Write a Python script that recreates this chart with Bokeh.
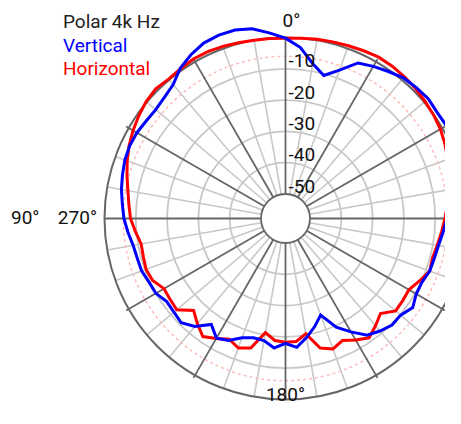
import numpy as np
from bokeh.plotting import figure
from bokeh.models import Range1d
from bokeh.core.properties import value
from bokeh.embed import file_html
from bokeh.resources import INLINE

# ---- data (angle in degrees, counter-clockwise from top; level in dB) ----
ANGLES = [0, 5, 10, 15, 20, 25, 30, 35, 40, 45, 50, 55, 60, 65, 70, 75, 80, 85,
          90, 95, 100, 105, 110, 115, 120, 125, 130, 135, 140, 145, 150, 155, 160, 165, 170, 175,
          180, 185, 190, 195, 200, 205, 210, 215, 220, 225, 230, 235, 240, 245, 250, 255, 260, 265,
          270, 275, 280, 285, 290, 295, 300, 305, 310, 315, 320, 325, 330, 335, 340, 345, 350, 355]

VERTICAL = [-0.2, 1.7, 3.7, 4.5, 4.5, 4.0, 2.6, 0.8, -2.0, -3.1, -3.7, -3.5, -3.0, -2.9, -3.2, -3.9, -4.6, -5.5,
            -6.2, -7.3, -8.4, -8.8, -8.9, -9.7, -10.0, -11.5, -11.3, -10.7, -12.8, -16.5, -13.7, -14.8, -17.3, -18.4, -18.2, -16.3,
            -17.9, -16.5, -19.2, -22.0, -25.0, -19.5, -16.0, -12.3, -10.9, -9.7, -9.8, -8.2, -9.6, -9.7, -8.8, -8.6, -8.2, -7.3,
            -6.2, -4.8, -3.4, -1.5, 0.1, 0.9, 1.5, 1.3, 1.7, 1.3, 0.8, -0.5, -1.7, -3.0, -7.4, -10.5, -7.6, -3.0]

HORIZONTAL = [-0.2, -0.1, 0.0, 0.3, 0.7, 1.0, 1.0, 0.6, 0.3, 0.8, 0.3, -0.6, -1.6, -2.7, -4.0, -5.4, -6.7, -7.6,
              -8.3, -9.7, -11.0, -10.8, -10.4, -11.0, -13.0, -12.8, -12.5, -16.3, -14.0, -11.8, -13.6, -15.3, -13.8, -15.0, -20.8, -18.7,
              -18.3, -18.4, -20.4, -15.0, -13.5, -14.8, -13.0, -11.3, -13.1, -14.9, -11.9, -12.1, -12.3, -10.6, -8.8, -9.2, -8.6, -7.8,
              -6.9, -5.8, -4.8, -3.8, -2.7, -1.6, -0.7, -0.1, 0.4, 0.9, 1.3, 1.6, 1.7, 1.3, 0.9, 0.6, 0.3, 0.0]

RING_DB = [-10, -20, -30, -40]
RING_LABELS = ["-10", "-20", "-30", "-40", "-50"]
RING_LABEL_DB = [-10, -20, -30, -40, -50]
DASHED_DB = -6
TITLE = "Polar 4k Hz"
SERIES_NAMES = ["Vertical", "Horizontal"]

# ---- radial scale: -50 dB at the hole edge, 0 dB at the outer circle ----
R_IN = 24.5
R_OUT = 181.0
K = (R_OUT - R_IN) / 50.0


def rad(db):
    return R_IN + (np.asarray(db, dtype=float) + 50.0) * K


def xy(theta_deg, r):
    t = np.radians(np.asarray(theta_deg, dtype=float))
    return -r * np.sin(t), r * np.cos(t)


p = figure(width=445, height=408, x_range=Range1d(-285, 160), y_range=Range1d(-190, 218),
           output_backend="svg", toolbar_location=None, min_border=0,
           x_axis_location=None, y_axis_location=None)
p.grid.visible = False
p.outline_line_color = None
p.background_fill_color = "white"
p.border_fill_color = "white"

LIGHT = "#c8c8c8"
DARK = "#666666"

# light spokes every 10 degrees
xs, ys = [], []
for a in range(0, 360, 10):
    if a % 30 == 0:
        continue
    x0, y0 = xy(a, R_IN)
    x1, y1 = xy(a, R_OUT)
    xs.append([float(x0), float(x1)])
    ys.append([float(y0), float(y1)])
p.multi_line(xs, ys, line_color=LIGHT, line_width=1.6)

# light rings
p.circle(x=[0] * len(RING_DB), y=[0] * len(RING_DB), radius=[float(rad(d)) for d in RING_DB],
         fill_color=None, line_color=LIGHT, line_width=1.8)

# dashed -6 dB ring
p.circle(x=[0], y=[0], radius=[float(rad(DASHED_DB))], fill_color=None,
         line_color="#ffb8b8", line_width=1.4, line_dash="3 3")

# dark spokes every 30 degrees
xs, ys = [], []
for a in range(0, 360, 30):
    x0, y0 = xy(a, R_IN)
    ext = 0 if a % 90 == 0 else 3
    x1, y1 = xy(a, R_OUT + ext)
    xs.append([float(x0), float(x1)])
    ys.append([float(y0), float(y1)])
p.multi_line(xs, ys, line_color=DARK, line_width=1.8)

# outer circle and hole
p.circle(x=[0], y=[0], radius=[R_OUT], fill_color=None, line_color=DARK, line_width=2)
p.circle(x=[0], y=[0], radius=[R_IN], fill_color="white", line_color=DARK, line_width=1.8)

# curves
ang_closed = ANGLES + [ANGLES[0]]
hx, hy = xy(ang_closed, rad(HORIZONTAL + [HORIZONTAL[0]]))
vx, vy = xy(ang_closed, rad(VERTICAL + [VERTICAL[0]]))
p.line(hx, hy, line_color="#ff0000", line_width=3, line_join="miter")
p.line(vx, vy, line_color="#0000ff", line_width=3, line_join="miter")

FONT = value("Roboto")
FS = value("19px")
DY = 7.0  # compensation for where the renderer puts the text baseline


def label(x, y, txt, color="#111111", align="left"):
    p.text(x=[x], y=[y + DY], text=[txt], text_font=FONT, text_font_size=FS, text_color=color,
           text_align=align, text_baseline="alphabetic")


# ring labels
for d, t in zip(RING_LABEL_DB, RING_LABELS):
    label(3, float(rad(d)) + 1.0, t)

# angle labels
label(-3, 191, "0°")
label(0, -183, "180°", align="center")
label(-274.5, -6, "90°")
label(-188.5, -6, "270°", align="right")

# title & legend texts
label(-222.5, 189.7, TITLE, color="#222222")
label(-222.5, 165.7, SERIES_NAMES[0], color="#0000ff")
label(-222.5, 143.0, SERIES_NAMES[1], color="#ff0000")

open("out.html", "w").write(file_html(p, INLINE))
